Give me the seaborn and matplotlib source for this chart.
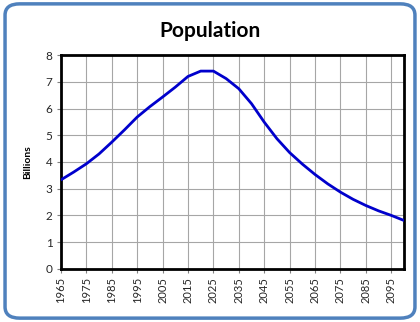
import matplotlib
matplotlib.use("Agg")
import matplotlib.pyplot as plt
from matplotlib.patches import FancyBboxPatch
import seaborn as sns
import pandas as pd

years = [1965, 1970, 1975, 1980, 1985, 1990, 1995, 2000, 2005, 2010,
         2015, 2020, 2025, 2030, 2035, 2040, 2045, 2050, 2055, 2060,
         2065, 2070, 2075, 2080, 2085, 2090, 2095, 2100]
population = [3.33, 3.62, 3.93, 4.30, 4.74, 5.20, 5.68, 6.07, 6.43, 6.80,
              7.20, 7.40, 7.40, 7.12, 6.74, 6.18, 5.49, 4.87, 4.35, 3.92,
              3.53, 3.18, 2.87, 2.60, 2.37, 2.17, 2.00, 1.81]
tick_years = list(range(1965, 2100, 10))
y_ticks = list(range(0, 9))

df = pd.DataFrame({"Year": years, "Billions": population})

sns.set_style("white")
plt.rcParams["font.family"] = ["Lato", "DejaVu Sans"]

fig = plt.figure(figsize=(4.2, 3.22), dpi=100)

# rounded frame around the whole chart
frame = FancyBboxPatch((0.012, 0.012), 0.976, 0.976,
                       boxstyle="round,pad=0,rounding_size=0.035",
                       transform=fig.transFigure, facecolor="none",
                       edgecolor="#4f81bd", linewidth=2.5, zorder=-1)
fig.patches.append(frame)

ax = fig.add_axes([0.145, 0.165, 0.817, 0.664])
ax.set_facecolor("white")
sns.lineplot(data=df, x="Year", y="Billions", ax=ax, color="#0000cc",
             linewidth=2.0, zorder=3)

ax.set_xlim(1965, 2100)
ax.set_ylim(0, 8)
ax.set_xticks(tick_years)
ax.set_xticklabels([str(y) for y in tick_years], rotation=90, fontsize=8)
ax.set_yticks(y_ticks)
ax.set_yticklabels([str(v) for v in y_ticks], fontsize=8.5)
ax.grid(True, color="#a6a6a6", linewidth=0.8)
ax.set_axisbelow(True)
for s in ax.spines.values():
    s.set_color("black")
    s.set_linewidth(2.0)
ax.tick_params(axis="both", direction="out", length=3, width=0.8,
               color="#808080", pad=3, left=True, bottom=True,
               labelcolor="#262626")
ax.set_xlabel("")
ax.set_ylabel("Billions", fontsize=7.5, fontweight="bold", labelpad=10,
              color="black")

fig.text(0.5, 0.905, "Population", ha="center", va="center",
         fontsize=15, fontweight="bold", color="black")

fig.savefig("out.png", dpi=100)
